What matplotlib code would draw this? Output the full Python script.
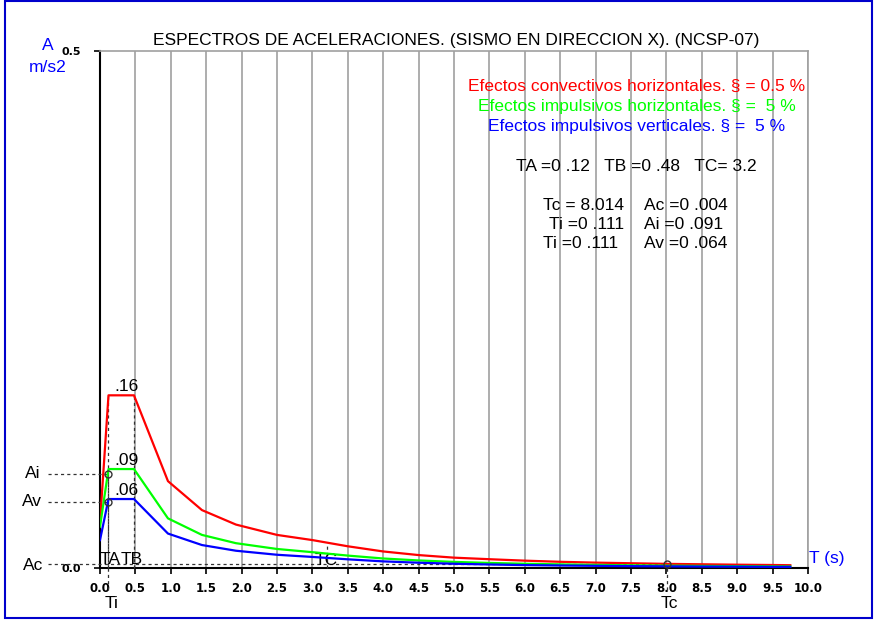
import numpy as np
import matplotlib.pyplot as plt
from matplotlib.patches import Rectangle

# datos del espectro
periods = [0.0, 0.12, 0.48, 0.96, 1.44, 1.92, 2.5, 3.0, 3.5, 4.0, 4.5, 5.0,
           5.5, 6.0, 6.5, 7.0, 7.5, 8.0, 8.5, 9.0, 9.5, 9.75]
conv_h = [0.044, 0.167, 0.167, 0.084, 0.056, 0.042, 0.032, 0.027, 0.021, 0.016,
          0.0125, 0.010, 0.0085, 0.0071, 0.006, 0.0052, 0.0046, 0.004, 0.0036,
          0.0032, 0.0029, 0.0027]
imp_h = [0.040, 0.0957, 0.0957, 0.048, 0.032, 0.024, 0.0184, 0.0153, 0.012,
         0.0092, 0.0073, 0.0059, 0.0049, 0.0041, 0.0035, 0.003, 0.0026, 0.0023,
         0.002, 0.0018, 0.0016, 0.0015]
imp_v = [0.027, 0.0667, 0.0667, 0.0333, 0.0222, 0.0167, 0.0128, 0.0107, 0.0084,
         0.0064, 0.0051, 0.0041, 0.0034, 0.0028, 0.0024, 0.0021, 0.0018, 0.0016,
         0.0014, 0.0013, 0.0011, 0.0011]
meseta_labels = ['.16', '.09', '.06']

TA, TB, TC = 0.12, 0.48, 3.2
Tc, Ac = 8.014, 0.004
Ti, Ai, Av = 0.111, 0.091, 0.064

x_ticks = np.arange(0, 10.01, 0.5)
x_labels = ['%.1f' % t for t in x_ticks]

title = 'ESPECTROS DE ACELERACIONES. (SISMO EN DIRECCION X). (NCSP-07)'
leyenda = [('Efectos convectivos horizontales. § = 0.5 %', '#ff0000'),
           ('Efectos impulsivos horizontales. § =  5 %', '#00ff00'),
           ('Efectos impulsivos verticales. § =  5 %', '#0000ff')]

W, H = 875, 621
FS = 12.5
plt.rcParams['font.family'] = ['Liberation Sans', 'DejaVu Sans']


def fx(px):
    return px / W


def fy(py):
    return 1 - py / H


fig = plt.figure(figsize=(W / 100, H / 100), dpi=100)
ax = fig.add_axes([fx(100), fy(568), fx(808) - fx(100), fy(51) - fy(568)])
ax.set_xlim(0, 10)
ax.set_ylim(0, 0.5)

# marco azul
fig.patches.append(Rectangle((fx(5), fy(618)), fx(872) - fx(5), fy(1) - fy(618),
                             transform=fig.transFigure, fill=False,
                             edgecolor='#0000cc', lw=1.5))

# rejilla y ejes
ax.set_xticks(x_ticks)
ax.set_xticklabels(x_labels, fontsize=8.5, fontweight='bold', family='DejaVu Sans')
ax.set_yticks([0, 0.5])
ax.set_yticklabels(['0.0', '0.5'], fontsize=8, fontweight='bold', family='DejaVu Sans')
ax.tick_params(axis='x', length=4, width=1.2, pad=6)
ax.tick_params(axis='y', length=4, width=1.2, pad=10)
ax.xaxis.grid(True, color='#a0a0a0', lw=1.2)
for s in ['left', 'bottom']:
    ax.spines[s].set_color('black')
    ax.spines[s].set_linewidth(1.5)
for s in ['top', 'right']:
    ax.spines[s].set_color('#a0a0a0')
    ax.spines[s].set_linewidth(1.2)

# curvas
ax.plot(periods, conv_h, color='#ff0000', lw=1.6, zorder=4)
ax.plot(periods, imp_h, color='#00ff00', lw=1.6, zorder=4)
ax.plot(periods, imp_v, color='#0000ff', lw=1.6, zorder=4)

# lineas auxiliares
dash = dict(color='#333333', lw=0.9, ls=(0, (2.5, 2.5)), clip_on=False, zorder=3)
x_left = -0.74
ax.plot([x_left, Ti], [Ai, Ai], **dash)
ax.plot([x_left, Ti], [Av, Av], **dash)
ax.plot([x_left, Tc], [Ac, Ac], **dash)
pico = max(conv_h)
ax.plot([TA, TA], [0, pico], **dash)
ax.plot([TB, TB], [0, pico], **dash)
ax.plot([Ti, Ti], [-0.021, Ai], **dash)
ax.plot([Tc, Tc], [-0.021, Ac], **dash)
ax.plot([TC, TC], [0, np.interp(TC, periods, conv_h)], **dash)
ax.plot([Ti, Ti, Tc], [Ai, Av, Ac], 'o', ms=5, mfc='none', mec='#333333',
        mew=1, clip_on=False, zorder=5)

# etiquetas sobre las mesetas
for serie, lab in zip([conv_h, imp_h, imp_v], meseta_labels):
    ax.annotate(lab, (0.2, max(serie)), xytext=(0, 1), textcoords='offset points',
                fontsize=FS, va='bottom', ha='left')

ax.text(0.0, 0.001, 'TA', fontsize=FS, va='bottom', ha='left')
ax.text(TB - 0.03, 0.001, 'TB', fontsize=FS, va='bottom', ha='center')
ax.text(TC, 0.0, 'TC', fontsize=FS, va='bottom', ha='center')

# textos de la figura
fig.text(fx(456), fy(40), title, fontsize=FS, ha='center', va='center')
fig.text(fx(48), fy(46), 'A', fontsize=FS, color='#0000ff', ha='center', va='center')
fig.text(fx(48), fy(68), 'm/s2', fontsize=FS, color='#0000ff', ha='center', va='center')
fig.text(fx(809), fy(558), 'T (s)', fontsize=FS, color='#0000ff', ha='left', va='center')
fig.text(fx(33), fy(473), 'Ai', fontsize=FS, ha='center', va='center')
fig.text(fx(32), fy(502), 'Av', fontsize=FS, ha='center', va='center')
fig.text(fx(33), fy(565), 'Ac', fontsize=FS, ha='center', va='center')
fig.text(fx(112), fy(604), 'Ti', fontsize=FS, ha='center', va='center')
fig.text(fx(669), fy(603), 'Tc', fontsize=FS, ha='center', va='center')

for i, (txt, col) in enumerate(leyenda):
    fig.text(fx(637), fy(86 + 20 * i), txt, fontsize=FS, color=col, ha='center', va='center')

fig.text(fx(636), fy(166), 'TA =0 .12   TB =0 .48   TC= 3.2', fontsize=FS,
         ha='center', va='center')
filas = [('Tc = 8.014', 'Ac =0 .004', 543), ('Ti =0 .111', 'Ai =0 .091', 549),
         ('Ti =0 .111', 'Av =0 .064', 543)]
for i, (a, b, x0) in enumerate(filas):
    fig.text(fx(x0), fy(205 + 19.5 * i), a, fontsize=FS, ha='left', va='center')
    fig.text(fx(644), fy(205 + 19.5 * i), b, fontsize=FS, ha='left', va='center')

fig.savefig('out.png', dpi=100)
